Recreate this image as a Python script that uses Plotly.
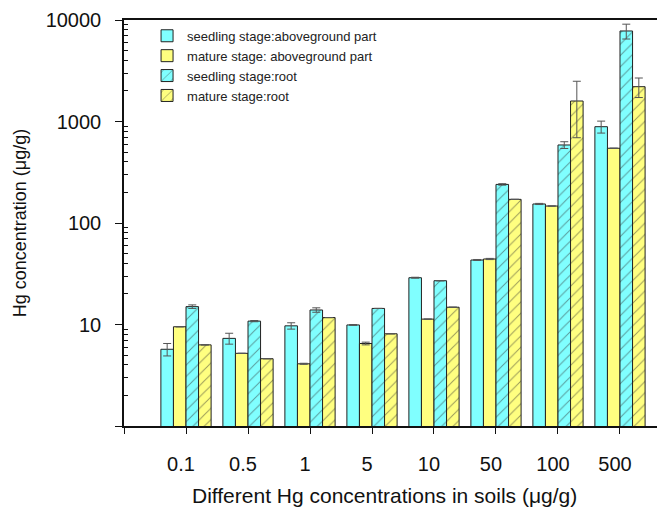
import plotly.graph_objects as go

categories = ["0.1", "0.5", "1", "5", "10", "50", "100", "500"]
seed_above = [5.7, 7.3, 9.7, 9.9, 28.9, 43.2, 154, 889]
seed_above_err = [0.8, 0.9, 0.7, 0.1, 0.3, 0.5, 2, 120]
mature_above = [9.5, 5.2, 4.1, 6.5, 11.3, 44.2, 147, 545]
mature_above_err = [0, 0, 0.05, 0.2, 0, 0.6, 0, 0]
seed_root = [15.0, 10.8, 13.9, 14.4, 27.0, 240, 587, 7795]
seed_root_err = [0.6, 0.15, 0.7, 0, 0, 4, 45, 1300]
mature_root = [6.3, 4.6, 11.7, 8.1, 14.8, 171, 1592, 2202]
mature_root_err = [0, 0, 0, 0, 0, 0, 900, 480]

series = [
    ("seedling stage:aboveground part", seed_above, seed_above_err, "#80FFFF", ""),
    ("mature stage: aboveground part", mature_above, mature_above_err, "#FFFF80", ""),
    ("seedling stage:root", seed_root, seed_root_err, "#80FFFF", "/"),
    ("mature stage:root", mature_root, mature_root_err, "#FFFF80", "/"),
]

xpos = list(range(1, len(categories) + 1))
fig = go.Figure()
for name, vals, err, col, shape in series:
    fig.add_trace(go.Bar(
        x=xpos, y=vals, name=name,
        marker=dict(color=col, line=dict(color="#222222", width=1),
                    pattern=dict(shape=shape, fgcolor="#333333", bgcolor=col,
                                 size=8, solidity=0.12)),
        error_y=dict(type="data", array=err, visible=True, color="#555555",
                     thickness=1, width=4),
    ))

font = "Liberation Sans, Arial, sans-serif"
minor_vals = [m * 10 ** e for e in range(0, 4) for m in range(2, 10)]
fig.update_layout(
    width=665, height=501,
    margin=dict(l=116, r=0, t=12, b=83),
    plot_bgcolor="white", paper_bgcolor="white",
    barmode="group", bargap=0.19, bargroupgap=0,
    font=dict(family=font, color="#111111"),
    legend=dict(x=0.042, y=0.998, xanchor="left", yanchor="top",
                font=dict(size=13, family=font, color="#222222"), tracegroupgap=0,
                bgcolor="rgba(0,0,0,0)"),
    showlegend=True,
    annotations=[dict(text="Different Hg concentrations in soils (μg/g)",
                      xref="paper", yref="paper", x=0.4745, y=-0.17,
                      xanchor="center", yanchor="middle", showarrow=False,
                      font=dict(size=21, family=font, color="#111111"))],
)
fig.update_xaxes(
    range=[0, 8.855], tickmode="array", tickvals=[0] + xpos,
    ticktext=[""] + categories, ticks="outside", ticklen=6,
    tickcolor="#111111", showline=True, linecolor="#111111", linewidth=1.5,
    mirror=True, showgrid=False, zeroline=False,
    tickfont=dict(size=20), ticklabelstandoff=13, ticklabelshift=-5,
)
fig.update_yaxes(
    type="log", range=[0, 4], tickmode="array",
    tickvals=[1, 10, 100, 1000, 10000],
    ticktext=["", "10", "100", "1000", "10000"],
    ticks="outside", ticklen=7, tickcolor="#111111",
    minor=dict(ticks="inside", ticklen=4, tickvals=minor_vals, tickcolor="#111111"),
    showline=True, linecolor="#111111", linewidth=1.5,
    showgrid=False, zeroline=False,
    tickfont=dict(size=20), ticklabelstandoff=10,
    title=dict(text="Hg concentration (μg/g)", font=dict(size=18), standoff=14),
)
fig.write_html("out.html")
